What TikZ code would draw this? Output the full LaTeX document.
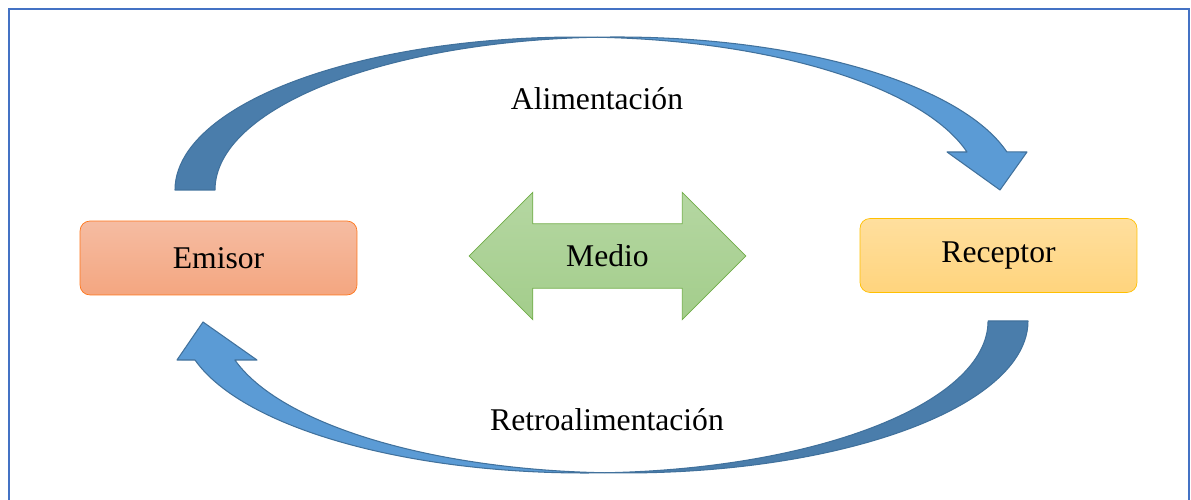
\documentclass[tikz,border=0pt]{standalone}
\usepackage{fontspec}
\setmainfont{Liberation Serif}
\usetikzlibrary{shapes.arrows}

\definecolor{marco}{HTML}{4472C4}
\definecolor{azul}{HTML}{5B9BD5}
\definecolor{azulosc}{HTML}{4A7DAB}
\definecolor{azulbrd}{HTML}{41719C}

\begin{document}
\begin{tikzpicture}[x=0.02cm, y=0.02cm,
      block/.style = {shape=rectangle, rounded corners=0.2cm, draw,
        minimum width=5.54cm, minimum height=1.48cm,
        font=\fontsize{18}{22}\selectfont},
      lbl/.style = {font=\fontsize{18}{22}\selectfont},
      curva/.style = {draw=azulbrd, line width=0.6pt, line join=round}]
  \useasboundingbox (0,0) rectangle (1191,500);
  \draw[marco, line width=1.4pt] (9,0) -- (9,491) -- (1189,491) -- (1189,0);

  \node[block, draw=orange!80!red!90, top color={rgb,255:red,245;green,188;blue,162},
    bottom color={rgb,255:red,244;green,166;blue,128}] (emisor) at (218.5,242) {Emisor};
  \node[block, draw={rgb,255:red,255;green,192;blue,0}, top color={rgb,255:red,255;green,223;blue,158},
    bottom color={rgb,255:red,255;green,212;blue,125}] (receptor) at (998.5,244.5) {Receptor};
  \node[double arrow, draw={rgb,255:red,112;green,173;blue,71}, minimum height=5.54cm,
    minimum width=2.52cm, inner ysep=0.415cm, double arrow head extend=0.63cm, double arrow tip angle=90,
    top color={rgb,255:red,181;green,215;blue,162}, bottom color={rgb,255:red,163;green,205;blue,139},
    font=\fontsize{18}{22}\selectfont] (medio) at (607.5,244) {Medio};

  % alimentacion
  \fill[curva, fill=azulosc] (175,310)
    arc[start angle=180, end angle=87.15, x radius=8.046cm, y radius=3.06cm]
    arc[start angle=92.85, end angle=180, x radius=8.046cm, y radius=3.06cm] -- cycle;
  \fill[curva, fill=azul] (597.3,462.8)
    arc[start angle=92.85, end angle=14.4, x radius=8.046cm, y radius=3.06cm]
    -- (1027,348) -- (1000,310) -- (947,348) -- (967,348)
    arc[start angle=14.4, end angle=87.15, x radius=8.046cm, y radius=3.06cm] -- cycle;
  \node[lbl] (alim) at (597,401) {Alimentación};

  % retroalimentacion
  \fill[curva, fill=azulosc] (1028,179)
    arc[start angle=0, end angle=-92.84, x radius=8.066cm, y radius=3.04cm]
    arc[start angle=-87.16, end angle=0, x radius=8.066cm, y radius=3.04cm] -- cycle;
  \fill[curva, fill=azul] (604.7,27.2)
    arc[start angle=-87.16, end angle=-165.13, x radius=8.066cm, y radius=3.04cm]
    -- (177,140) -- (203,178) -- (257,140) -- (234.9,140)
    arc[start angle=-165.13, end angle=-92.84, x radius=8.066cm, y radius=3.04cm] -- cycle;
  \node[lbl] (retro) at (607,80) {Retroalimentación};
\end{tikzpicture}
\end{document}
